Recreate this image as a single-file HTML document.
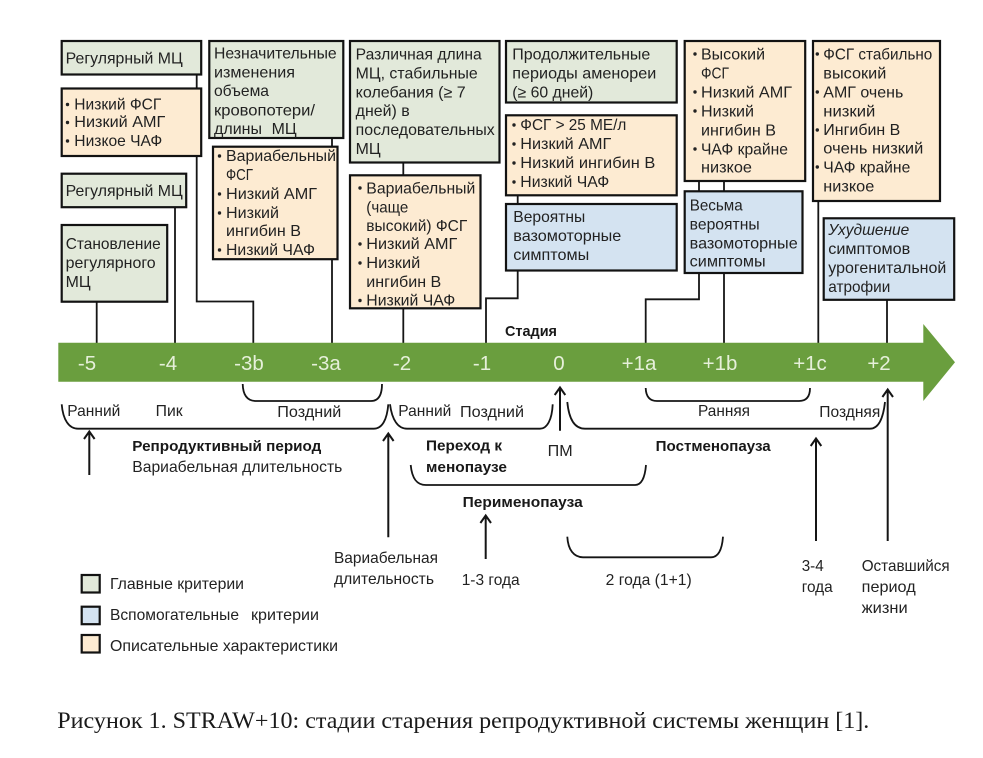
<!DOCTYPE html>
<html><head><meta charset="utf-8">
<style>
html,body{margin:0;padding:0;background:#fff}
svg{display:block}
text{font-family:"Liberation Sans","DejaVu Sans",sans-serif;font-size:15.6px;fill:#222}
.b{font-weight:bold;fill:#181818;font-size:15px}
.n{font-size:20.5px;fill:#e6f0da}
.t{font-family:"Liberation Serif",serif;font-size:23px;fill:#1a1a1a}
.g{fill:#e2e9da}.o{fill:#fdebd2}.l{fill:#d4e3f1}
rect{stroke:#121212;stroke-width:2.2}
.c{fill:none;stroke:#151515;stroke-width:1.8}
.br{fill:none;stroke:#151515;stroke-width:1.8}
.ar{fill:none;stroke:#151515;stroke-width:2}
circle{fill:#222}
</style></head><body>
<svg width="983" height="758" viewBox="0 0 983 758" xmlns="http://www.w3.org/2000/svg">
<rect x="0" y="0" width="983" height="758" style="fill:#fff;stroke:none"/>
<!-- connectors -->
<path class="c" d="M96.7 302V343M175 208V343M196.7 75V301.5H253.3V343M332 139V343M403.3 163V343M517.7 196V298.3H486V343M699 182V299.3H645.7V343M724 182V343M818.3 201V343M887 300V343"/>
<!-- boxes -->
<rect class="g" x="61.7" y="41" width="139.5" height="33.5"/>
<rect class="o" x="61.7" y="88.5" width="139.5" height="67.5"/>
<rect class="g" x="61.7" y="173.7" width="124.5" height="33.5"/>
<rect class="g" x="61.7" y="225" width="105.5" height="76.7"/>
<rect class="g" x="209.3" y="41" width="134" height="97"/>
<rect class="o" x="213" y="146.7" width="124.5" height="112.5"/>
<rect class="g" x="350" y="41" width="149.5" height="121.5"/>
<rect class="o" x="350" y="175.3" width="130.5" height="133"/>
<rect class="g" x="506" y="41" width="170.7" height="61.5"/>
<rect class="o" x="506" y="115.3" width="170.7" height="80"/>
<rect class="l" x="506" y="204" width="170.7" height="66.5"/>
<rect class="o" x="684.7" y="41" width="120.5" height="140"/>
<rect class="l" x="684.7" y="191.3" width="117.8" height="81.7"/>
<rect class="o" x="813" y="41" width="127" height="160"/>
<rect class="l" x="823.7" y="218.3" width="130.5" height="81.5"/>
<!-- main arrow -->
<path d="M58.3 342.7H923.3V324L955 362.3L923.3 401V381.7H58.3Z" fill="#6a9e3e"/>
<g text-anchor="middle">
<text class="n" x="87" y="370">-5</text><text class="n" x="168" y="370">-4</text><text class="n" x="249" y="370">-3b</text><text class="n" x="326" y="370">-3a</text><text class="n" x="402" y="370">-2</text><text class="n" x="482" y="370">-1</text><text class="n" x="559" y="370">0</text><text class="n" x="639" y="370">+1a</text><text class="n" x="720" y="370">+1b</text><text class="n" x="810" y="370">+1c</text><text class="n" x="879" y="370">+2</text>
</g>
<!-- box text -->
<g>
<text x="65.7" y="63.3" textLength="117" lengthAdjust="spacingAndGlyphs">Регулярный МЦ</text>
<text x="74.3" y="109.3" textLength="87" lengthAdjust="spacingAndGlyphs">Низкий ФСГ</text>
<text x="74.3" y="127" textLength="91" lengthAdjust="spacingAndGlyphs">Низкий АМГ</text>
<text x="74.3" y="146" textLength="88" lengthAdjust="spacingAndGlyphs">Низкое ЧАФ</text>
<text x="65.7" y="196" textLength="117" lengthAdjust="spacingAndGlyphs">Регулярный МЦ</text>
<text x="65.7" y="249" textLength="95" lengthAdjust="spacingAndGlyphs">Становление</text>
<text x="65.7" y="268" textLength="90" lengthAdjust="spacingAndGlyphs">регулярного</text>
<text x="65.7" y="287" textLength="25" lengthAdjust="spacingAndGlyphs">МЦ</text>

<text x="214" y="58.3" textLength="122.7" lengthAdjust="spacingAndGlyphs">Незначительные</text>
<text x="214" y="77.3" textLength="81" lengthAdjust="spacingAndGlyphs">изменения</text>
<text x="214" y="96" textLength="55" lengthAdjust="spacingAndGlyphs">объема</text>
<text x="214" y="115.7" textLength="101" lengthAdjust="spacingAndGlyphs">кровопотери/</text>
<text x="214" y="134" textLength="48" lengthAdjust="spacingAndGlyphs">длины</text>
<text x="271.7" y="134" textLength="25" lengthAdjust="spacingAndGlyphs">МЦ</text>

<text x="226" y="161" textLength="110" lengthAdjust="spacingAndGlyphs">Вариабельный</text>
<text x="226" y="180" textLength="27" lengthAdjust="spacingAndGlyphs">ФСГ</text>
<text x="226" y="199" textLength="91" lengthAdjust="spacingAndGlyphs">Низкий АМГ</text>
<text x="226" y="218" textLength="53" lengthAdjust="spacingAndGlyphs">Низкий</text>
<text x="226" y="236" textLength="75" lengthAdjust="spacingAndGlyphs">ингибин В</text>
<text x="226" y="255" textLength="89" lengthAdjust="spacingAndGlyphs">Низкий ЧАФ</text>

<text x="355.7" y="59.3" textLength="126" lengthAdjust="spacingAndGlyphs">Различная длина</text>
<text x="355.7" y="78.3" textLength="122" lengthAdjust="spacingAndGlyphs">МЦ, стабильные</text>
<text x="355.7" y="97.3" textLength="110" lengthAdjust="spacingAndGlyphs">колебания (≥ 7</text>
<text x="355.7" y="116" textLength="54" lengthAdjust="spacingAndGlyphs">дней) в</text>
<text x="355.7" y="135" textLength="139" lengthAdjust="spacingAndGlyphs">последовательных</text>
<text x="355.7" y="154" textLength="25" lengthAdjust="spacingAndGlyphs">МЦ</text>

<text x="366.3" y="193.3" textLength="109" lengthAdjust="spacingAndGlyphs">Вариабельный</text>
<text x="366.3" y="212.3" textLength="42" lengthAdjust="spacingAndGlyphs">(чаще</text>
<text x="366.3" y="231" textLength="101" lengthAdjust="spacingAndGlyphs">высокий) ФСГ</text>
<text x="366.3" y="249" textLength="91" lengthAdjust="spacingAndGlyphs">Низкий АМГ</text>
<text x="366.3" y="268" textLength="54" lengthAdjust="spacingAndGlyphs">Низкий</text>
<text x="366.3" y="287" textLength="75" lengthAdjust="spacingAndGlyphs">ингибин В</text>
<text x="366.3" y="305.7" textLength="89" lengthAdjust="spacingAndGlyphs">Низкий ЧАФ</text>

<text x="512.3" y="59.3" textLength="138" lengthAdjust="spacingAndGlyphs">Продолжительные</text>
<text x="512.3" y="78.3" textLength="144" lengthAdjust="spacingAndGlyphs">периоды аменореи</text>
<text x="512.3" y="97.3" textLength="81" lengthAdjust="spacingAndGlyphs">(≥ 60 дней)</text>

<text x="520.3" y="130" textLength="106" lengthAdjust="spacingAndGlyphs">ФСГ &gt; 25 МЕ/л</text>
<text x="520.3" y="149" textLength="91" lengthAdjust="spacingAndGlyphs">Низкий АМГ</text>
<text x="520.3" y="168" textLength="135" lengthAdjust="spacingAndGlyphs">Низкий ингибин В</text>
<text x="520.3" y="187" textLength="89" lengthAdjust="spacingAndGlyphs">Низкий ЧАФ</text>

<text x="513.3" y="222" textLength="72" lengthAdjust="spacingAndGlyphs">Вероятны</text>
<text x="513.3" y="241" textLength="108" lengthAdjust="spacingAndGlyphs">вазомоторные</text>
<text x="513.3" y="260" textLength="76" lengthAdjust="spacingAndGlyphs">симптомы</text>

<text x="701" y="59.3" textLength="64" lengthAdjust="spacingAndGlyphs">Высокий</text>
<text x="701" y="78.3" textLength="28" lengthAdjust="spacingAndGlyphs">ФСГ</text>
<text x="701" y="97.3" textLength="91" lengthAdjust="spacingAndGlyphs">Низкий АМГ</text>
<text x="701" y="116.3" textLength="53" lengthAdjust="spacingAndGlyphs">Низкий</text>
<text x="701" y="135.3" textLength="75" lengthAdjust="spacingAndGlyphs">ингибин В</text>
<text x="701" y="154.3" textLength="87" lengthAdjust="spacingAndGlyphs">ЧАФ крайне</text>
<text x="701" y="172.3" textLength="51" lengthAdjust="spacingAndGlyphs">низкое</text>

<text x="689.7" y="210.3" textLength="53" lengthAdjust="spacingAndGlyphs">Весьма</text>
<text x="689.7" y="229.3" textLength="70" lengthAdjust="spacingAndGlyphs">вероятны</text>
<text x="689.7" y="248.3" textLength="108" lengthAdjust="spacingAndGlyphs">вазомоторные</text>
<text x="689.7" y="266.3" textLength="76" lengthAdjust="spacingAndGlyphs">симптомы</text>

<text x="823.3" y="59.3" textLength="109" lengthAdjust="spacingAndGlyphs">ФСГ стабильно</text>
<text x="823.3" y="78.3" textLength="63" lengthAdjust="spacingAndGlyphs">высокий</text>
<text x="823.3" y="97.3" textLength="80" lengthAdjust="spacingAndGlyphs">АМГ очень</text>
<text x="823.3" y="116.3" textLength="52" lengthAdjust="spacingAndGlyphs">низкий</text>
<text x="823.3" y="135" textLength="77" lengthAdjust="spacingAndGlyphs">Ингибин В</text>
<text x="823.3" y="153.3" textLength="100" lengthAdjust="spacingAndGlyphs">очень низкий</text>
<text x="823.3" y="172.3" textLength="87" lengthAdjust="spacingAndGlyphs">ЧАФ крайне</text>
<text x="823.3" y="191.3" textLength="51" lengthAdjust="spacingAndGlyphs">низкое</text>

<text x="828.3" y="235" textLength="81" lengthAdjust="spacingAndGlyphs" font-style="italic">Ухудшение</text>
<text x="828.3" y="254" textLength="82" lengthAdjust="spacingAndGlyphs">симптомов</text>
<text x="828.3" y="273" textLength="118" lengthAdjust="spacingAndGlyphs">урогенитальной</text>
<text x="828.3" y="292" textLength="62" lengthAdjust="spacingAndGlyphs">атрофии</text>
</g>
<!-- bullets -->
<g>
<circle cx="67.5" cy="104.5" r="1.7"/><circle cx="67.5" cy="122.5" r="1.7"/><circle cx="67.5" cy="141" r="1.7"/>
<circle cx="219.5" cy="156" r="1.7"/><circle cx="219.5" cy="194" r="1.7"/><circle cx="219.5" cy="213" r="1.7"/><circle cx="219.5" cy="250" r="1.7"/>
<circle cx="360" cy="188" r="1.7"/><circle cx="360" cy="244" r="1.7"/><circle cx="360" cy="263" r="1.7"/><circle cx="360" cy="300.5" r="1.7"/>
<circle cx="514" cy="125" r="1.7"/><circle cx="514" cy="144" r="1.7"/><circle cx="514" cy="163" r="1.7"/><circle cx="514" cy="182" r="1.7"/>
<circle cx="695" cy="54" r="1.7"/><circle cx="695" cy="92" r="1.7"/><circle cx="695" cy="111" r="1.7"/><circle cx="695" cy="149" r="1.7"/>
<circle cx="817.3" cy="54" r="1.7"/><circle cx="817.3" cy="92" r="1.7"/><circle cx="817.3" cy="130" r="1.7"/><circle cx="817.3" cy="167" r="1.7"/>
</g>
<!-- braces -->
<path class="br" d="M242.7 384C243 396 248 401 256 401H371C378 401 382 396 382 384"/>
<path class="br" d="M645.7 388C646 397 650 401 657 401H799C806 401 810 397 810 388"/>
<path class="br" d="M61.7 404.3C63 420 69 428.7 78 428.7H374C382 428.7 387 420 388.3 404.3"/>
<path class="br" d="M390 404.3C392 420 398 428.7 407 428.7H540C547 428.7 552 420 552.7 404.3"/>
<path class="br" d="M567.3 402C569 420 575 428.7 585 428.7H870C878 428.7 883 420 885 402"/>
<path class="br" d="M410.7 465C412 479 417 485 426 485H635C642 485 645 477 646 465"/>
<path class="br" d="M567.3 536.7C568 550 574 557.3 583 557.3H711C718 557.3 722 550 723 536.7"/>
<!-- up arrows -->
<path class="ar" d="M89.3 475V432M84 439L89.3 431.5L94.6 439"/>
<path class="ar" d="M388.3 537.3V434M383 441L388.3 433.5L393.6 441"/>
<path class="ar" d="M485.7 559V516M480.4 523L485.7 515.5L491 523"/>
<path class="ar" d="M560 430.7V388M554.7 395L560 387.5L565.3 395"/>
<path class="ar" d="M816 541V439M810.7 446L816 438.5L821.3 446"/>
<path class="ar" d="M887.7 541V390M882.4 397L887.7 389.5L893 397"/>
<!-- lower labels -->
<text class="b" x="505" y="336" textLength="52" lengthAdjust="spacingAndGlyphs">Стадия</text>
<text x="67.3" y="416" textLength="53" lengthAdjust="spacingAndGlyphs">Ранний</text>
<text x="155.7" y="416" textLength="27" lengthAdjust="spacingAndGlyphs">Пик</text>
<text x="277.3" y="417" textLength="64" lengthAdjust="spacingAndGlyphs">Поздний</text>
<text x="398.3" y="416" textLength="53" lengthAdjust="spacingAndGlyphs">Ранний</text>
<text x="460" y="417" textLength="64" lengthAdjust="spacingAndGlyphs">Поздний</text>
<text x="698" y="416" textLength="52" lengthAdjust="spacingAndGlyphs">Ранняя</text>
<text x="819.3" y="417" textLength="61" lengthAdjust="spacingAndGlyphs">Поздняя</text>
<text class="b" x="132.3" y="451" textLength="189" lengthAdjust="spacingAndGlyphs">Репродуктивный период</text>
<text x="132.3" y="472" textLength="210" lengthAdjust="spacingAndGlyphs">Вариабельная длительность</text>
<text class="b" x="426" y="450.3" textLength="76" lengthAdjust="spacingAndGlyphs">Переход к</text>
<text class="b" x="426" y="472" textLength="81" lengthAdjust="spacingAndGlyphs">менопаузе</text>
<text x="547.7" y="456" textLength="25" lengthAdjust="spacingAndGlyphs">ПМ</text>
<text class="b" x="655.7" y="451" textLength="115" lengthAdjust="spacingAndGlyphs">Постменопауза</text>
<text class="b" x="462.7" y="507" textLength="120" lengthAdjust="spacingAndGlyphs">Перименопауза</text>
<text x="334" y="563" textLength="104" lengthAdjust="spacingAndGlyphs">Вариабельная</text>
<text x="334" y="584" textLength="100" lengthAdjust="spacingAndGlyphs">длительность</text>
<text x="461.7" y="585" textLength="58" lengthAdjust="spacingAndGlyphs">1-3 года</text>
<text x="605.7" y="585" textLength="86" lengthAdjust="spacingAndGlyphs">2 года (1+1)</text>
<text x="801.7" y="571" textLength="22" lengthAdjust="spacingAndGlyphs">3-4</text>
<text x="801.7" y="592" textLength="31" lengthAdjust="spacingAndGlyphs">года</text>
<text x="861.7" y="571" textLength="88" lengthAdjust="spacingAndGlyphs">Оставшийся</text>
<text x="861.7" y="592" textLength="54" lengthAdjust="spacingAndGlyphs">период</text>
<text x="861.7" y="613" textLength="46" lengthAdjust="spacingAndGlyphs">жизни</text>
<!-- legend -->
<rect class="g" x="81.7" y="575" width="18" height="17.5"/>
<rect class="l" x="81.7" y="606.7" width="18" height="17.5"/>
<rect class="o" x="81.7" y="635" width="18" height="17.5"/>
<text x="110" y="589" textLength="134" lengthAdjust="spacingAndGlyphs">Главные критерии</text>
<text x="110" y="620" textLength="129" lengthAdjust="spacingAndGlyphs">Вспомогательные</text>
<text x="251" y="620" textLength="68" lengthAdjust="spacingAndGlyphs">критерии</text>
<text x="110" y="651" textLength="228" lengthAdjust="spacingAndGlyphs">Описательные характеристики</text>
<!-- caption -->
<text class="t" x="57.3" y="728" textLength="812" lengthAdjust="spacingAndGlyphs">Рисунок 1. STRAW+10: стадии старения репродуктивной системы женщин [1].</text>
</svg>
</body></html>
